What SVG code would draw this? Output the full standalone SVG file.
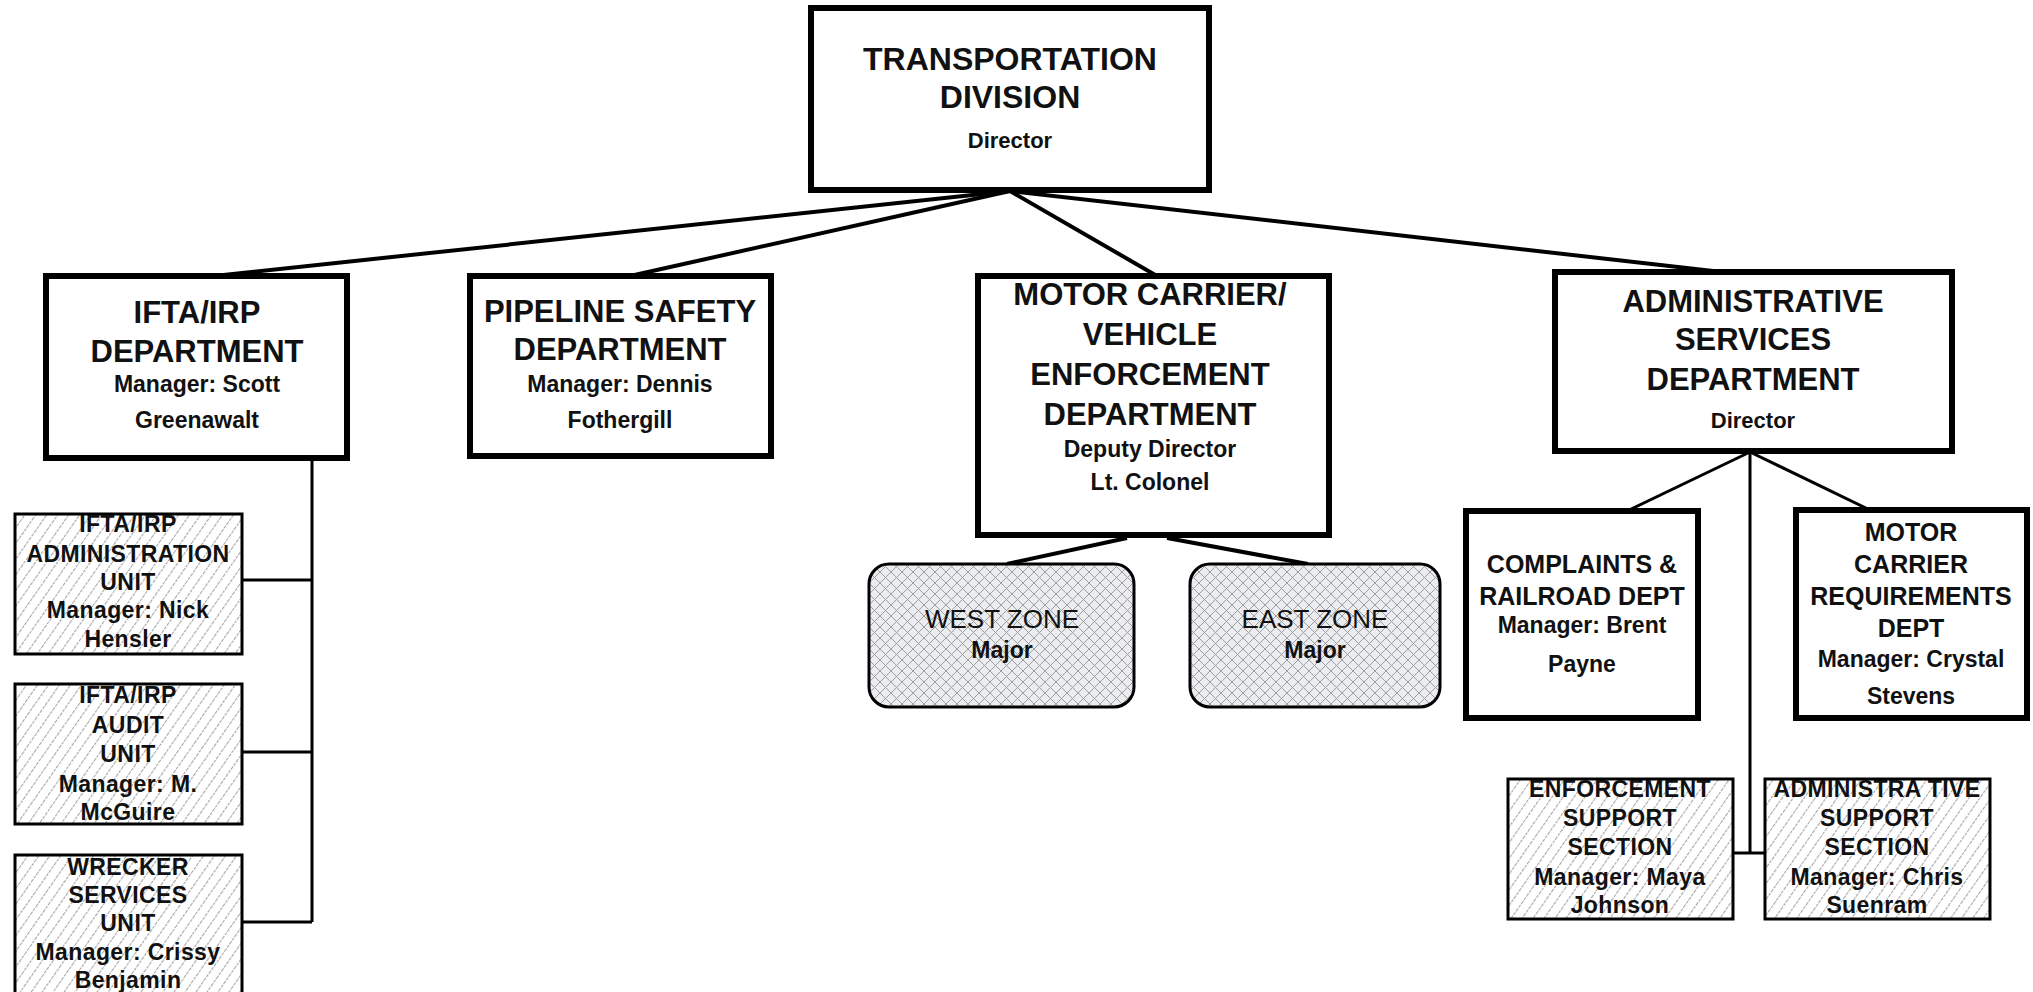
<svg xmlns="http://www.w3.org/2000/svg" width="2033" height="992" viewBox="0 0 2033 992">
  <style>
    text { font-family: "Liberation Sans", Arial, sans-serif; fill: #111; text-anchor: middle; }
    .t { font-size: 31px; font-weight: bold; }
    .tm { font-size: 25px; font-weight: bold; }
    .s { font-size: 23px; font-weight: bold; }
    .d { font-size: 22px; font-weight: bold; }
    .u { font-size: 23px; font-weight: bold; letter-spacing: 0.4px; }
    .z { font-size: 26px; }
    .dept { fill: #fff; stroke: #000; stroke-width: 6; }
    .unit { fill: url(#hatch); stroke: #000; stroke-width: 3; }
    .zone { fill: url(#mesh); stroke: #000; stroke-width: 3; }
    .link { fill: none; stroke: #000; stroke-width: 4; }
    .thin { fill: none; stroke: #000; stroke-width: 3; }
  </style>
  <defs>
    <pattern id="hatch" width="9" height="9" patternUnits="userSpaceOnUse" patternTransform="rotate(35)">
      <rect width="9" height="9" fill="#fff"/>
      <line x1="0.5" y1="0" x2="0.5" y2="9" stroke="#a8a8a8" stroke-width="1.2" stroke-dasharray="3 1"/>
    </pattern>
    <pattern id="mesh" width="11" height="11" patternUnits="userSpaceOnUse">
      <rect width="11" height="11" fill="#eaecef"/>
      <path d="M0 0 L11 11 M11 0 L0 11" stroke="#9e9e9e" stroke-width="1"/>
    </pattern>
  </defs>
  <rect width="2033" height="992" fill="#fff"/>

  <g id="connectors">
    <!-- division to departments -->
    <path class="link" d="M1010 191 L214 276"/>
    <path class="link" d="M1010 191 L630 276"/>
    <path class="link" d="M1010 191 L1157 276"/>
    <path class="link" d="M1010 191 L1722 272"/>
    <!-- IFTA/IRP units -->
    <path class="thin" d="M312 458 L312 922"/>
    <path class="thin" d="M242 580 L312 580"/>
    <path class="thin" d="M242 752 L312 752"/>
    <path class="thin" d="M242 922 L312 922"/>
    <!-- enforcement zones -->
    <path class="link" d="M1127 538 L1007 564"/>
    <path class="link" d="M1167 538 L1308 564"/>
    <!-- administrative services -->
    <path class="thin" d="M1750 452 L1627 511"/>
    <path class="thin" d="M1750 452 L1750 853"/>
    <path class="thin" d="M1750 452 L1870 510"/>
    <path class="thin" d="M1733 853 L1765 853"/>
  </g>

  <g id="division">
    <rect class="dept" x="811" y="8" width="398" height="182"/>
    <text class="t" x="1010" y="70" style="font-size:32px">TRANSPORTATION</text>
    <text class="t" x="1010" y="108" style="font-size:32px">DIVISION</text>
    <text class="d" x="1010" y="148">Director</text>
  </g>

  <g id="ifta-dept">
    <rect class="dept" x="46" y="276" width="301" height="182"/>
    <text class="t" x="197" y="323">IFTA/IRP</text>
    <text class="t" x="197" y="362">DEPARTMENT</text>
    <text class="s" x="197" y="392">Manager: Scott</text>
    <text class="s" x="197" y="428">Greenawalt</text>
  </g>

  <g id="pipeline-dept">
    <rect class="dept" x="470" y="276" width="301" height="180"/>
    <text class="t" x="620" y="322">PIPELINE SAFETY</text>
    <text class="t" x="620" y="360">DEPARTMENT</text>
    <text class="s" x="620" y="392">Manager: Dennis</text>
    <text class="s" x="620" y="428">Fothergill</text>
  </g>

  <g id="motor-carrier-dept">
    <rect class="dept" x="978" y="276" width="351" height="259"/>
    <text class="t" x="1150" y="305">MOTOR CARRIER/</text>
    <text class="t" x="1150" y="345">VEHICLE</text>
    <text class="t" x="1150" y="385">ENFORCEMENT</text>
    <text class="t" x="1150" y="425">DEPARTMENT</text>
    <text class="s" x="1150" y="457">Deputy Director</text>
    <text class="s" x="1150" y="490">Lt. Colonel</text>
  </g>

  <g id="admin-services-dept">
    <rect class="dept" x="1555" y="272" width="397" height="179"/>
    <text class="t" x="1753" y="312">ADMINISTRATIVE</text>
    <text class="t" x="1753" y="350">SERVICES</text>
    <text class="t" x="1753" y="390">DEPARTMENT</text>
    <text class="d" x="1753" y="428">Director</text>
  </g>

  <g id="ifta-admin-unit">
    <rect class="unit" x="15" y="514" width="227" height="140"/>
    <text class="u" x="128" y="532">IFTA/IRP</text>
    <text class="u" x="128" y="562">ADMINISTRATION</text>
    <text class="u" x="128" y="590">UNIT</text>
    <text class="u" x="128" y="618">Manager: Nick</text>
    <text class="u" x="128" y="647">Hensler</text>
  </g>

  <g id="ifta-audit-unit">
    <rect class="unit" x="15" y="684" width="227" height="140"/>
    <text class="u" x="128" y="703">IFTA/IRP</text>
    <text class="u" x="128" y="733">AUDIT</text>
    <text class="u" x="128" y="762">UNIT</text>
    <text class="u" x="128" y="792">Manager: M.</text>
    <text class="u" x="128" y="820">McGuire</text>
  </g>

  <g id="wrecker-unit">
    <rect class="unit" x="15" y="855" width="227" height="150"/>
    <text class="u" x="128" y="875">WRECKER</text>
    <text class="u" x="128" y="903">SERVICES</text>
    <text class="u" x="128" y="931">UNIT</text>
    <text class="u" x="128" y="960">Manager: Crissy</text>
    <text class="u" x="128" y="988">Benjamin</text>
  </g>

  <g id="west-zone">
    <rect class="zone" x="869" y="564" width="265" height="143" rx="20"/>
    <text class="z" x="1002" y="628">WEST ZONE</text>
    <text class="s" x="1002" y="658">Major</text>
  </g>

  <g id="east-zone">
    <rect class="zone" x="1190" y="564" width="250" height="143" rx="20"/>
    <text class="z" x="1315" y="628">EAST ZONE</text>
    <text class="s" x="1315" y="658">Major</text>
  </g>

  <g id="complaints-railroad-dept">
    <rect class="dept" x="1466" y="511" width="232" height="207"/>
    <text class="tm" x="1582" y="573">COMPLAINTS &amp;</text>
    <text class="tm" x="1582" y="605">RAILROAD DEPT</text>
    <text class="s" x="1582" y="633">Manager: Brent</text>
    <text class="s" x="1582" y="672">Payne</text>
  </g>

  <g id="motor-carrier-requirements-dept">
    <rect class="dept" x="1796" y="510" width="231" height="208"/>
    <text class="tm" x="1911" y="541">MOTOR</text>
    <text class="tm" x="1911" y="573">CARRIER</text>
    <text class="tm" x="1911" y="605">REQUIREMENTS</text>
    <text class="tm" x="1911" y="637">DEPT</text>
    <text class="s" x="1911" y="667">Manager: Crystal</text>
    <text class="s" x="1911" y="704">Stevens</text>
  </g>

  <g id="enforcement-support-section">
    <rect class="unit" x="1508" y="779" width="225" height="140"/>
    <text class="u" x="1620" y="797">ENFORCEMENT</text>
    <text class="u" x="1620" y="826">SUPPORT</text>
    <text class="u" x="1620" y="855">SECTION</text>
    <text class="u" x="1620" y="885">Manager: Maya</text>
    <text class="u" x="1620" y="913">Johnson</text>
  </g>

  <g id="administrative-support-section">
    <rect class="unit" x="1765" y="779" width="225" height="140"/>
    <text class="u" x="1877" y="797">ADMINISTRA TIVE</text>
    <text class="u" x="1877" y="826">SUPPORT</text>
    <text class="u" x="1877" y="855">SECTION</text>
    <text class="u" x="1877" y="885">Manager: Chris</text>
    <text class="u" x="1877" y="913">Suenram</text>
  </g>
</svg>
